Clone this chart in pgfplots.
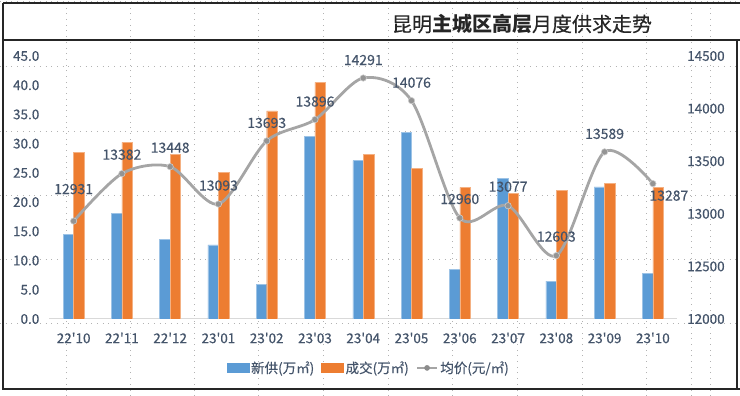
\documentclass[border=0pt]{standalone}
\usepackage{pgfplots}
\pgfplotsset{compat=1.18}
\usepackage{pgfplotstable}
\usepackage{fontspec}
\setmainfont{Noto Sans CJK SC}[UprightFeatures={FakeBold=0.3}]
\definecolor{sblue}{HTML}{5B9BD5}
\definecolor{sorange}{HTML}{ED7D31}
\definecolor{sgray}{HTML}{A5A5A5}
\definecolor{txt}{HTML}{44546A}
\pgfplotsset{/pgf/number format/assume math mode=true}

\pgfplotstableread{
x y dx dy lab
0 12931 0 32 12931
1 13382 0 19 13382
2 13448 0 19 13448
3 13093 0 18.5 13093
4 13693 0 18 13693
5 13896 0 18 13896
6 14291 0 18 14291
7 14076 0 18 14076
8 12960 0 19 12960
9 13077 0 19 13077
10 12603 0 19 12603
11 13589 0 18 13589
12 13287 16 -12 13287
}\price

\begin{document}
\begin{tikzpicture}[font=\fontsize{13.5}{16}\selectfont]
\useasboundingbox (0,0) rectangle (740pt,396pt);
% spreadsheet background grid
\foreach \x in {66,130,194,258,323,388,452,517,582,646,691,710}
  \draw[black!30, line width=0.7pt, dash pattern=on 0.7pt off 5pt] ({\x*1pt},0) -- ({\x*1pt},396pt);
\foreach \y in {1,66,131,195,259,323}
  \draw[black!30, line width=0.7pt, dash pattern=on 0.7pt off 5pt] (0,{(396-\y)*1pt}) -- (740pt,{(396-\y)*1pt});
% frames
\draw[black!85, line width=1.2pt] (3pt,393pt) -- (740pt,393pt);
\draw[black!85, line width=1.2pt] (3pt,356pt) -- (740pt,356pt);
\draw[black!85, line width=1.2pt] (3pt,393pt) -- (3pt,7pt) -- (740pt,7pt);
\draw[black!85, line width=1.2pt] (737pt,356pt) -- (737pt,7pt);
% title
\node[anchor=center, inner sep=0pt, font=\fontsize{20}{24}\selectfont, text=black!85] at (522pt,372pt) {昆明\textbf{主城区高层}月度供求走势};

\begin{axis}[
  at={(49.5pt,77pt)}, anchor=south west, scale only axis,
  width=627.5pt, height=263pt,
  xmin=-0.5, xmax=12.5, ymin=0, ymax=45,
  xtick={0,...,12},
  xticklabels={22\textquotesingle10,22\textquotesingle11,22\textquotesingle12,23\textquotesingle01,23\textquotesingle02,23\textquotesingle03,23\textquotesingle04,23\textquotesingle05,23\textquotesingle06,23\textquotesingle07,23\textquotesingle08,23\textquotesingle09,23\textquotesingle10},
  ytick={0,5,...,45},
  ybar=0pt, bar width=10.5pt,
  axis x line*=bottom, axis y line*=left,
  x axis line style={draw=black!15, line width=1pt, -},
  y axis line style={draw=none},
  major tick length=0pt,
  tick label style={text=txt, font=\fontsize{13.5}{16}\selectfont},
  yticklabel style={anchor=east, inner sep=0pt, xshift=-10pt, /pgf/number format/fixed, /pgf/number format/fixed zerofill, /pgf/number format/precision=1},
  xticklabel style={anchor=north, inner sep=0pt, yshift=-13.5pt},
  legend style={at={(0.5,-0.186)}, anchor=center, xshift=5.5pt, draw=none, fill=none,
    legend columns=3, font=\fontsize{13.5}{16}\selectfont, text=txt,
    /tikz/every even column/.append style={column sep=5pt}},
  legend cell align=left,
]
\addplot[fill=sblue, draw=sblue!60!white, line width=0.4pt, legend image code/.code={\fill[sblue] (0pt,-4.5pt) rectangle (22pt,4.5pt);}]
  coordinates {(0,14.5) (1,18.1) (2,13.6) (3,12.7) (4,5.9) (5,31.2) (6,27.1) (7,31.9) (8,8.5) (9,24.1) (10,6.5) (11,22.6) (12,7.8)};
\addlegendentry{新供(万㎡)}
\addplot[fill=sorange, draw=sorange!60!white, line width=0.4pt, legend image code/.code={\fill[sorange] (0pt,-4.5pt) rectangle (22pt,4.5pt);}]
  coordinates {(0,28.5) (1,30.2) (2,28.2) (3,25.1) (4,35.6) (5,40.5) (6,28.2) (7,25.8) (8,22.5) (9,21.5) (10,22.0) (11,23.2) (12,22.5)};
\addlegendentry{成交(万㎡)}
\addlegendimage{legend image code/.code={\draw[sgray, line width=2.6pt] (0pt,0pt) -- (20pt,0pt); \fill[sgray!85!black] (10pt,0pt) circle (2.6pt);}}
\addlegendentry{均价(元/㎡)}
\end{axis}

\begin{axis}[
  at={(49.5pt,77pt)}, anchor=south west, scale only axis,
  width=627.5pt, height=263pt,
  xmin=-0.5, xmax=12.5, ymin=12000, ymax=14500,
  axis x line=none, axis y line*=right,
  y axis line style={draw=none},
  major tick length=0pt,
  ytick={12000,12500,...,14500},
  scaled y ticks=false,
  tick label style={text=txt, font=\fontsize{13.5}{16}\selectfont},
  yticklabel style={anchor=west, inner sep=0pt, xshift=10pt, /pgf/number format/fixed, /pgf/number format/precision=0, /pgf/number format/1000 sep={}},
  clip=false,
]
\addplot[sgray, line width=2.8pt, smooth, tension=0.5, mark=*, mark size=3.2pt,
  mark options={fill=sgray!90!black, draw=white!80!black, line width=0.6pt},
  point meta=explicit symbolic,
  visualization depends on={\thisrow{dx} \as \dx},
  visualization depends on={\thisrow{dy} \as \dy},
  nodes near coords,
  nodes near coords style={anchor=center, inner sep=0pt, text=txt, font=\fontsize{14}{16}\selectfont, xshift={\dx*1pt}, yshift={\dy*1pt}},
] table[x=x, y=y, meta=lab] {\price};
\draw[sgray!80, line width=0.6pt] (axis cs:0,12931) ++(0,5pt) -- ++(0,15pt);
\end{axis}
\end{tikzpicture}
\end{document}
